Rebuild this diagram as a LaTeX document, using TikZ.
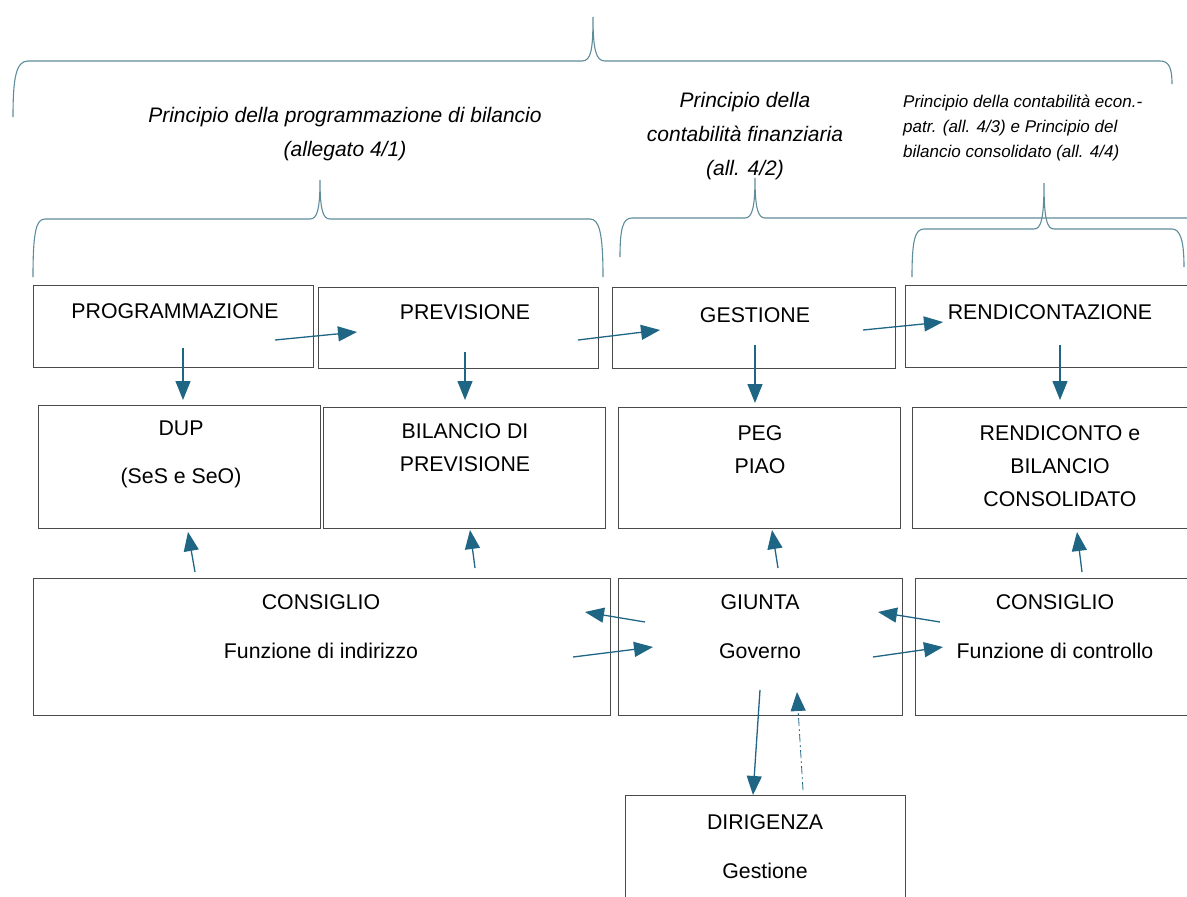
\documentclass[tikz,border=0pt]{standalone}
\usepackage{fontspec}
\setmainfont{Liberation Sans}
\usetikzlibrary{arrows.meta}
\definecolor{arrc}{HTML}{1F6584}
\definecolor{brc}{HTML}{5E8C9A}
\definecolor{bxc}{HTML}{4A4A4A}
\begin{document}
\begin{tikzpicture}[x=1pt,y=-1pt,
  box/.style={draw=bxc, line width=1pt, inner sep=0pt, outer sep=0pt, anchor=north west},
  txt/.style={align=center, inner sep=0pt, font=\fontsize{21.3}{33}\selectfont},
  hdr/.style={align=center, inner sep=0pt, font=\fontsize{21}{34}\selectfont\itshape},
  hdrs/.style={align=left, inner sep=0pt, anchor=west, font=\fontsize{17}{25}\selectfont\itshape},
  brace/.style={draw=brc, line width=1.1pt},
  arr/.style={draw=arrc, line width=1.3pt, -{Triangle[length=19pt,width=15pt]}},
  arrd/.style={draw=arrc, line width=0.8pt, dash pattern=on 8pt off 3pt on 2pt off 3pt, -{Triangle[length=19pt,width=15pt]}}
]
\useasboundingbox (0,0) rectangle (1187,897);

% braces
\draw[brace] (13,117) .. controls (13,78) and (16,61) .. (28,61) -- (582,61)
  .. controls (591,61) and (593,50) .. (593,17) .. controls (593,50) and (596,61) .. (605,61)
  -- (1160,61) .. controls (1169,61) and (1172,68) .. (1172,84);
\draw[brace] (33,277) .. controls (33,232) and (36,219) .. (45,219) -- (310,219)
  .. controls (317,219) and (320,210) .. (320,180) .. controls (320,210) and (323,219) .. (330,219)
  -- (590,219) .. controls (599,219) and (603,232) .. (603,277);
\draw[brace] (620,257) .. controls (620,228) and (623,218) .. (632,218) -- (745,218)
  .. controls (752,218) and (755,208) .. (755,178) .. controls (755,208) and (758,218) .. (765,218)
  -- (1190,218);
\draw[brace] (912,277) .. controls (912,240) and (915,229) .. (924,229) -- (1034,229)
  .. controls (1041,229) and (1044,219) .. (1044,183) .. controls (1044,219) and (1047,229) .. (1054,229)
  -- (1172,229) .. controls (1180,229) and (1184,240) .. (1184,267);

% headers
\node[hdr] (h41) at (345,134) {Principio della programmazione di bilancio\\(allegato 4/1)};
\node[hdr] (h42) at (745,136) {Principio della\\contabilità finanziaria\\(all. 4/2)};
\node[hdrs] (h44) at (903,128) {Principio della contabilità econ.-\\patr. (all. 4/3) e Principio del\\bilancio consolidato (all. 4/4)};

% boxes
\node[box, minimum width=280pt, minimum height=82pt] (prog) at (33,285) {};
\node[box, minimum width=280pt, minimum height=81pt] (prev) at (318,287) {};
\node[box, minimum width=283pt, minimum height=81pt] (gest) at (612,287) {};
\node[box, minimum width=290pt, minimum height=82pt] (rend) at (905,285) {};
\node[box, minimum width=282pt, minimum height=123pt] (dup) at (38,405) {};
\node[box, minimum width=282pt, minimum height=121pt] (bil) at (323,407) {};
\node[box, minimum width=282pt, minimum height=121pt] (peg) at (618,407) {};
\node[box, minimum width=285pt, minimum height=121pt] (rdc) at (912,407) {};
\node[box, minimum width=577pt, minimum height=137pt] (cons1) at (33,578) {};
\node[box, minimum width=284pt, minimum height=137pt] (giu) at (618,578) {};
\node[box, minimum width=280pt, minimum height=137pt] (cons2) at (915,578) {};
\node[box, minimum width=280pt, minimum height=110pt] (dir) at (625,795) {};

% box texts
\node[txt] (tprog) at (175,311) {PROGRAMMAZIONE};
\node[txt] (tprev) at (465,312) {PREVISIONE};
\node[txt] (tgest) at (755,315) {GESTIONE};
\node[txt] (trend) at (1050,312) {RENDICONTAZIONE};
\node[txt] (tdup) at (181,454) {DUP\\[15pt](SeS e SeO)};
\node[txt] (tbil) at (465,448) {BILANCIO DI\\PREVISIONE};
\node[txt] (tpeg) at (760,450) {PEG\\PIAO};
\node[txt] (trdc) at (1060,466) {RENDICONTO e\\BILANCIO\\CONSOLIDATO};
\node[txt] (tcons1) at (321,627) {CONSIGLIO\\[16pt]Funzione di indirizzo};
\node[txt] (tgiu) at (760,627) {GIUNTA\\[16pt]Governo};
\node[txt] (tcons2) at (1055,627) {CONSIGLIO\\[16pt]Funzione di controllo};
\node[txt] (tdir) at (765,847) {DIRIGENZA\\[16pt]Gestione};

% arrow end points
\coordinate (a1s) at (275,340); \coordinate (a1e) at (357,332);
\coordinate (a2s) at (578,340); \coordinate (a2e) at (660,330);
\coordinate (a3s) at (863,330); \coordinate (a3e) at (943,322);
\coordinate (d1s) at (183,348); \coordinate (d1e) at (183,400);
\coordinate (d2s) at (465,352); \coordinate (d2e) at (465,400);
\coordinate (d3s) at (755,345); \coordinate (d3e) at (755,403);
\coordinate (d4s) at (1060,345); \coordinate (d4e) at (1060,400);
\coordinate (u1s) at (195,572); \coordinate (u1e) at (188,532);
\coordinate (u2s) at (475,568); \coordinate (u2e) at (470,530);
\coordinate (u3s) at (778,568); \coordinate (u3e) at (772,530);
\coordinate (u4s) at (1082,572); \coordinate (u4e) at (1077,532);
\coordinate (l1s) at (645,622); \coordinate (l1e) at (585,612);
\coordinate (r1s) at (573,657); \coordinate (r1e) at (653,647);
\coordinate (l2s) at (940,622); \coordinate (l2e) at (878,612);
\coordinate (r2s) at (873,657); \coordinate (r2e) at (943,647);
\coordinate (g1s) at (760,690); \coordinate (g1e) at (753,795);
\coordinate (g2s) at (803,790); \coordinate (g2e) at (797,692);

\draw[arr] (a1s) -- (a1e);
\draw[arr] (a2s) -- (a2e);
\draw[arr] (a3s) -- (a3e);
\draw[arr] (d1s) -- (d1e);
\draw[arr] (d2s) -- (d2e);
\draw[arr] (d3s) -- (d3e);
\draw[arr] (d4s) -- (d4e);
\draw[arr] (u1s) -- (u1e);
\draw[arr] (u2s) -- (u2e);
\draw[arr] (u3s) -- (u3e);
\draw[arr] (u4s) -- (u4e);
\draw[arr] (l1s) -- (l1e);
\draw[arr] (r1s) -- (r1e);
\draw[arr] (l2s) -- (l2e);
\draw[arr] (r2s) -- (r2e);
\draw[arr] (g1s) -- (g1e);
\draw[arrd] (g2s) -- (g2e);
\end{tikzpicture}
\end{document}
